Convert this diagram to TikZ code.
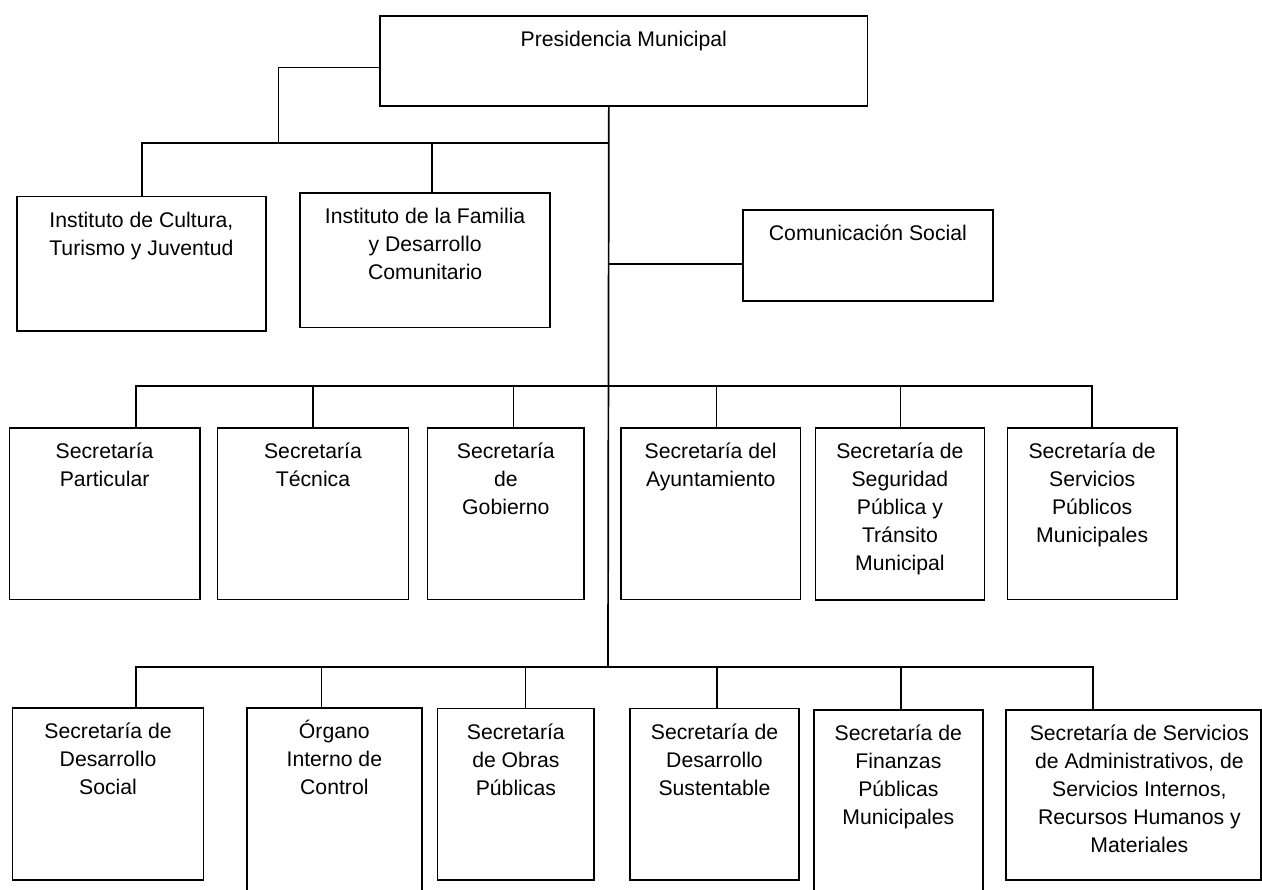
\documentclass[tikz,border=0pt]{standalone}
\usepackage{fontspec}
\setmainfont{Liberation Sans}
\begin{document}
\begin{tikzpicture}[x=1pt,y=-1pt,line width=1.7pt,
  box/.style 2 args={draw,line width=1.7pt,anchor=north west,inner sep=0pt,minimum width=#1,minimum height=#2},
  lbl/.style={anchor=north,yshift=-10.9pt,align=center,inner sep=0pt,font=\fontsize{21.2}{28}\selectfont}]
\useasboundingbox (0,0) rectangle (1262,890);
\clip (0,0) rectangle (1262,890);
% top
\node[box={487.4pt}{90.3pt},label={[lbl]north:{\strut Presidencia Municipal}}] (pres) at (379.3,15) {};
\node[box={249.5pt}{134.3pt},label={[lbl]north:{\strut Instituto de Cultura,\\Turismo y Juventud}}] (cult) at (15.8,195.7) {};
\node[box={250pt}{134.7pt},label={[lbl]north:{\strut Instituto de la Familia\\y Desarrollo\\Comunitario}}] (fam) at (299.3,192) {};
\node[box={249.7pt}{91pt},label={[lbl]north:{\strut Comunicación Social}}] (com) at (742.2,209) {};
% middle row
\node[box={190.1pt}{171.7pt},label={[lbl]north:{\strut Secretaría\\Particular}}] (spar) at (8.7,427) {};
\node[box={191.1pt}{171.7pt},label={[lbl]north:{\strut Secretaría\\Técnica}}] (stec) at (216.6,427) {};
\node[box={156.6pt}{171.7pt},label={[lbl]north:{\strut Secretaría\\de\\Gobierno}}] (sgob) at (426.7,427) {};
\node[box={179.7pt}{171.7pt},label={[lbl]north:{\strut Secretaría del\\Ayuntamiento}}] (sayu) at (620,427) {};
\node[box={169.1pt}{172.3pt},label={[lbl]north:{\strut Secretaría de\\Seguridad\\Pública y\\Tránsito\\Municipal}}] (sseg) at (814.5,427) {};
\node[box={169.2pt}{171.7pt},label={[lbl]north:{\strut Secretaría de\\Servicios\\Públicos\\Municipales}}] (sspm) at (1006.7,427) {};
% bottom row
\node[box={191pt}{172pt},label={[lbl]north:{\strut Secretaría de\\Desarrollo\\Social}}] (sdes) at (11.7,707) {};
\node[box={175pt}{200pt},label={[lbl]north:{\strut Órgano\\Interno de\\Control}}] (oic) at (246,707) {};
\node[box={156.6pt}{171.3pt},label={[lbl]north:{\strut Secretaría\\de Obras\\Públicas}}] (sobr) at (436.7,707.7) {};
\node[box={169.3pt}{171.3pt},label={[lbl]north:{\strut Secretaría de\\Desarrollo\\Sustentable}}] (ssus) at (629,707.7) {};
\node[box={169pt}{200pt},label={[lbl]north:{\strut Secretaría de\\Finanzas\\Públicas\\Municipales}}] (sfin) at (813,709) {};
\node[box={255pt}{170pt},label={[lbl,xshift=6pt]north:{\strut Secretaría de Servicios\\de Administrativos, de\\Servicios Internos,\\Recursos Humanos y\\Materiales}}] (sadm) at (1005,709) {};
% junctions
\coordinate (j0) at (608,142.7);
\coordinate (kl) at (278.6,142.7);
\coordinate (jc) at (608,264);
\coordinate (j1) at (608,386);
\coordinate (j2) at (608,666.7);
% connectors
\draw ([xshift=-15pt]pres.south) -- (j2);
\draw ([yshift=-6.55pt]pres.west) -| (kl);
\draw ([xshift=0.9pt]cult.north) |- (j0);
\draw ([xshift=6.5pt]fam.north) |- (j0);
\draw (jc) -- (com.west |- jc);
\draw ([xshift=31.25pt]spar.north) |- (j1);
\draw (stec.north) |- (j1);
\draw ([xshift=7.7pt]sgob.north) |- (j1);
\draw ([xshift=5.85pt]sayu.north) |- (j1);
\draw ([xshift=0.65pt]sseg.north) |- (j1);
\draw (sspm.north) |- (j1);
\draw ([xshift=27.8pt]sdes.north) |- (j2);
\draw ([xshift=-12.8pt]oic.north) |- (j2);
\draw ([xshift=9.7pt]sobr.north) |- (j2);
\draw ([xshift=2.35pt]ssus.north) |- (j2);
\draw ([xshift=2.5pt]sfin.north) |- (j2);
\draw ([xshift=-40.5pt]sadm.north) |- (j2);
\end{tikzpicture}
\end{document}
